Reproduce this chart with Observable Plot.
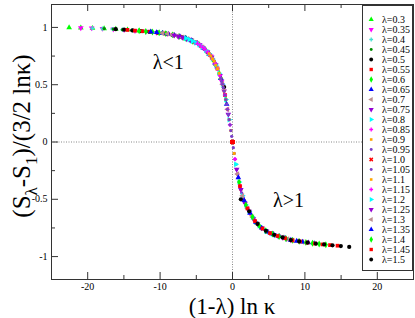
<!DOCTYPE html>
<html>
<head>
<meta charset="utf-8">
<script src="https://cdn.jsdelivr.net/npm/d3@7"></script>
<script src="https://cdn.jsdelivr.net/npm/@observablehq/plot@0.6"></script>
<style>
  html, body { margin: 0; padding: 0; background: #fff; }
  #wrap { position: relative; width: 415px; height: 318px; overflow: hidden; }
  #legend { position: absolute; left: 362px; top: 5px; }
</style>
</head>
<body>
<div id="wrap"><div id="main"></div><div id="legend"></div></div>
<script>
// ---------- data ----------
const lambdas = [0.3,0.35,0.4,0.45,0.5,0.55,0.6,0.65,0.7,0.75,0.8,0.85,0.9,0.95,1.0,1.05,1.1,1.15,1.2,1.25,1.3,1.35,1.4,1.45,1.5];
const labels = ["λ=0.3","λ=0.35","λ=0.4","λ=0.45","λ=0.5","λ=0.55","λ=0.6","λ=0.65","λ=0.7","λ=0.75","λ=0.8","λ=0.85","λ=0.9","λ=0.95","λ=1.0","λ=1.05","λ=1.1","λ=1.15","λ=1.2","λ=1.25","λ=1.3","λ=1.35","λ=1.4","λ=1.45","λ=1.5"];
const lnKappa = [-2.30,-4.61,-6.91,-9.21,-11.51,-13.82,-16.12,-18.42,-20.72,-23.03,-25.33,-27.63,-29.93,-32.24];

const s030 = [0.56,0.77,0.86,0.90,0.93,0.95,0.96,0.97,0.98,0.985,0.99,0.993,0.996,0.999];
const s035 = [0.53,0.75,0.845,0.895,0.92,0.945,0.955,0.965,0.97,0.98,0.985,0.99,0.994,0.996];
const s040 = [0.505,0.725,0.83,0.88,0.915,0.935,0.95,0.96,0.967,0.974,0.98,0.986,0.99,0.993];
const s045 = [0.475,0.705,0.81,0.87,0.90,0.925,0.94,0.953,0.962,0.968,0.975,0.98,0.986,0.99];
const s050 = [0.48,0.67,0.785,0.85,0.888,0.913,0.931,0.946,0.955,0.962,0.968,0.974,0.98,0.985];
const s055 = [0.41,0.64,0.76,0.827,0.87,0.90,0.919,0.935,0.947,0.955,0.962,0.967,0.972,0.978];
const s060 = [0.37,0.60,0.725,0.80,0.85,0.88,0.905,0.92,0.935,0.946,0.953,0.96,0.965,0.97];
const s065 = [0.33,0.555,0.69,0.77,0.82,0.86,0.885,0.905,0.919,0.931,0.943,0.95,0.956,0.961];
const s070 = [0.285,0.505,0.64,0.725,0.785,0.827,0.86,0.88,0.90,0.913,0.925,0.935,0.945,0.95];
const s075 = [0.24,0.445,0.58,0.67,0.74,0.785,0.82,0.85,0.87,0.888,0.90,0.913,0.922,0.931];
const s080 = [0.195,0.37,0.505,0.60,0.67,0.725,0.77,0.80,0.827,0.85,0.867,0.88,0.895,0.905];
const s085 = [0.15,0.285,0.41,0.505,0.58,0.64,0.69,0.725,0.76,0.785,0.81,0.827,0.845,0.86];
const s090 = [0.10,0.195,0.285,0.37,0.445,0.505,0.555,0.60,0.64,0.67,0.705,0.725,0.75,0.77];
const s095 = [0.05,0.10,0.15,0.195,0.24,0.285,0.33,0.37,0.41,0.445,0.475,0.505,0.53,0.555];
const s100 = [0,0,0,0,0,0,0,0,0,0,0,0,0,0];
const s105 = [-0.05,-0.10,-0.15,-0.195,-0.24,-0.28,-0.31,-0.35,-0.385,-0.415,-0.445,-0.47,-0.49,-0.51];
const s110 = [-0.10,-0.195,-0.28,-0.35,-0.415,-0.47,-0.51,-0.55,-0.58,-0.605,-0.635,-0.655,-0.68,-0.70];
const s115 = [-0.15,-0.28,-0.385,-0.47,-0.535,-0.58,-0.62,-0.655,-0.69,-0.715,-0.74,-0.755,-0.77,-0.785];
const s120 = [-0.195,-0.35,-0.47,-0.55,-0.605,-0.655,-0.70,-0.73,-0.755,-0.775,-0.79,-0.803,-0.815,-0.824];
const s125 = [-0.24,-0.415,-0.535,-0.605,-0.67,-0.715,-0.75,-0.775,-0.795,-0.81,-0.822,-0.833,-0.845,-0.856];
const s130 = [-0.28,-0.47,-0.58,-0.655,-0.715,-0.755,-0.785,-0.803,-0.82,-0.833,-0.847,-0.858,-0.865,-0.872];
const s135 = [-0.31,-0.51,-0.62,-0.70,-0.75,-0.785,-0.806,-0.824,-0.84,-0.856,-0.864,-0.872,-0.879,-0.885];
const s140 = [-0.35,-0.55,-0.655,-0.73,-0.775,-0.803,-0.824,-0.842,-0.858,-0.867,-0.876,-0.883,-0.89,-0.896];
const s145 = [-0.385,-0.58,-0.69,-0.755,-0.795,-0.82,-0.84,-0.858,-0.868,-0.878,-0.886,-0.894,-0.90,-0.905];
const s150 = [-0.50,-0.605,-0.715,-0.775,-0.81,-0.833,-0.856,-0.867,-0.878,-0.887,-0.894,-0.902,-0.908,-0.916];

const seriesValues = [s030,s035,s040,s045,s050,s055,s060,s065,s070,s075,s080,s085,s090,s095,s100,s105,s110,s115,s120,s125,s130,s135,s140,s145,s150];

const xMajorTicks = [-20,-10,0,10,20];
const xMinorTicks = [-15,-5,5,15];
const yMajorTicks = [-1,-0.5,0,0.5,1];
const yMinorTicks = [-0.75,-0.25,0.25,0.75];

const annotations = [
  {x: -11.0, y: 0.64, text: "λ<1"},
  {x: 5.6, y: -0.57, text: "λ>1"}
];

// ---------- styles ----------
const colors = ["#00ff00","#ff00ff","#40e0d0","#008b00","#000000","#ff0000","#00ff00","#0000ff","#bc8f8f","#9400d3","#00ffff","#ff00ff","#ffa500","#7a3fc8","#ff0000","#7a3fc8","#ffa500","#ff00ff","#00ffff","#9400d3","#bc8f8f","#0000ff","#00ff00","#ff0000","#000000"];

const sqrt3 = Math.sqrt(3);
const triDown = {draw(c, s) { const y = -Math.sqrt(s / (sqrt3 * 3)); c.moveTo(0, -2 * y); c.lineTo(-sqrt3 * y, y); c.lineTo(sqrt3 * y, y); c.closePath(); }};
const triLeft = {draw(c, s) { const y = -Math.sqrt(s / (sqrt3 * 3)); c.moveTo(2 * y, 0); c.lineTo(-y, -sqrt3 * y); c.lineTo(-y, sqrt3 * y); c.closePath(); }};
const triRight = {draw(c, s) { const y = -Math.sqrt(s / (sqrt3 * 3)); c.moveTo(-2 * y, 0); c.lineTo(y, -sqrt3 * y); c.lineTo(y, sqrt3 * y); c.closePath(); }};
const xCross = {draw(c, s) {
  const r = Math.sqrt(s / 5) / 2;
  const pts = [[-3*r,-r],[-r,-r],[-r,-3*r],[r,-3*r],[r,-r],[3*r,-r],[3*r,r],[r,r],[r,3*r],[-r,3*r],[-r,r],[-3*r,r]];
  const k = Math.SQRT1_2;
  pts.forEach(([px, py], i) => { const qx = (px - py) * k, qy = (px + py) * k; i ? c.lineTo(qx, qy) : c.moveTo(qx, qy); });
  c.closePath();
}};
const small = (sym, k) => ({draw(c, s) { sym.draw(c, s * k); }});
const symbols = [
  d3.symbolTriangle, triDown, small(d3.symbolCross, 0.7), small(d3.symbolCircle, 0.6), d3.symbolCircle,
  d3.symbolSquare, d3.symbolDiamond, d3.symbolTriangle, triLeft, triDown,
  triRight, small(d3.symbolCross, 0.7), small(d3.symbolSquare, 0.6), small(d3.symbolCircle, 0.6), xCross,
  small(d3.symbolCircle, 0.6), small(d3.symbolSquare, 0.6), small(d3.symbolCross, 0.7), triRight, triDown,
  triLeft, d3.symbolTriangle, d3.symbolDiamond, d3.symbolSquare, d3.symbolCircle
];

// ---------- build ----------
const points = seriesValues.flatMap((ys, i) =>
  ys.map((y, n) => ({label: labels[i], lambda: lambdas[i], x: (1 - lambdas[i]) * lnKappa[n], y}))
);

const W = 415, H = 318, mL = 51, mR = 2, mT = 4, mB = 39;
const fw = W - mL - mR, fh = H - mT - mB;
const serif = "'Liberation Serif', 'Times New Roman', serif";
const tickColor = "#333";

const main = Plot.plot({
  width: W, height: H,
  marginLeft: mL, marginRight: mR, marginTop: mT, marginBottom: mB,
  style: {fontFamily: serif, fontSize: "10px", background: "#fff", color: "#000"},
  x: {domain: [-25, 25], ticks: xMajorTicks, tickSize: 0, tickPadding: 3, tickFormat: d => String(d), label: null},
  y: {domain: [-1.2, 1.2], ticks: yMajorTicks, tickSize: 0, tickPadding: 4, tickFormat: d => String(d), label: null},
  symbol: {domain: labels, range: symbols},
  color: {domain: labels, range: colors},
  marks: [
    Plot.ruleX([0], {stroke: "#888", strokeDasharray: "1,1.5"}),
    Plot.ruleY([0], {stroke: "#888", strokeDasharray: "1,1.5"}),
    Plot.ruleX(xMajorTicks, {stroke: tickColor, insetTop: fh - 7}),
    Plot.ruleX(xMinorTicks, {stroke: tickColor, insetTop: fh - 4}),
    Plot.ruleX(xMajorTicks, {stroke: tickColor, insetBottom: fh - 7}),
    Plot.ruleX(xMinorTicks, {stroke: tickColor, insetBottom: fh - 4}),
    Plot.ruleY(yMajorTicks, {stroke: tickColor, insetRight: fw - 7}),
    Plot.ruleY(yMinorTicks, {stroke: tickColor, insetRight: fw - 4}),
    Plot.ruleY(yMajorTicks, {stroke: tickColor, insetLeft: fw - 7}),
    Plot.ruleY(yMinorTicks, {stroke: tickColor, insetLeft: fw - 4}),
    Plot.dot(points, {x: "x", y: "y", symbol: "label", fill: "label", r: 2.1}),
    Plot.text(annotations, {x: "x", y: "y", text: "text", textAnchor: "start", lineAnchor: "bottom", fontSize: 20, fontFamily: serif}),
    Plot.frame({stroke: tickColor})
  ]
});
document.getElementById("main").appendChild(main);

// axis titles (with subscripts) as real SVG text
const svg = d3.select(main);
svg.append("text")
  .attr("x", mL + fw / 2).attr("y", 314)
  .attr("text-anchor", "middle")
  .attr("font-family", serif).attr("font-size", 23)
  .attr("fill", "#000")
  .text("(1-λ) ln κ");

const yt = svg.append("text")
  .attr("transform", `translate(30,${mT + 132}) rotate(-90)`)
  .attr("text-anchor", "middle")
  .attr("font-family", serif).attr("font-size", 25)
  .attr("fill", "#000");
yt.append("tspan").text("(S");
yt.append("tspan").attr("font-size", 17).attr("dy", 7).text("λ");
yt.append("tspan").attr("dy", -7).text("-S");
yt.append("tspan").attr("font-size", 17).attr("dy", 7).text("1");
yt.append("tspan").attr("dy", -7).text(")/(3/2 lnκ)");

// legend box drawn with Plot's point scale
const legendRows = labels.map(label => ({label}));
const legend = Plot.plot({
  width: 51, height: 266,
  marginLeft: 0, marginRight: 1, marginTop: 0, marginBottom: 1,
  style: {fontFamily: serif, fontSize: "10px", background: "transparent"},
  x: {axis: null},
  y: {type: "point", domain: labels, range: [8.3, 259.4], axis: null},
  symbol: {domain: labels, range: symbols},
  color: {domain: labels, range: colors},
  marks: [
    Plot.frame({fill: "#fff", stroke: tickColor}),
    Plot.dot(legendRows, {y: "label", frameAnchor: "left", dx: 8.7, symbol: "label", fill: "label", r: 1.9}),
    Plot.text(legendRows, {y: "label", text: "label", frameAnchor: "left", dx: 19.5, textAnchor: "start", fontSize: 10, fontFamily: serif, fill: "#000"})
  ]
});
document.getElementById("legend").appendChild(legend);
</script>
</body>
</html>
